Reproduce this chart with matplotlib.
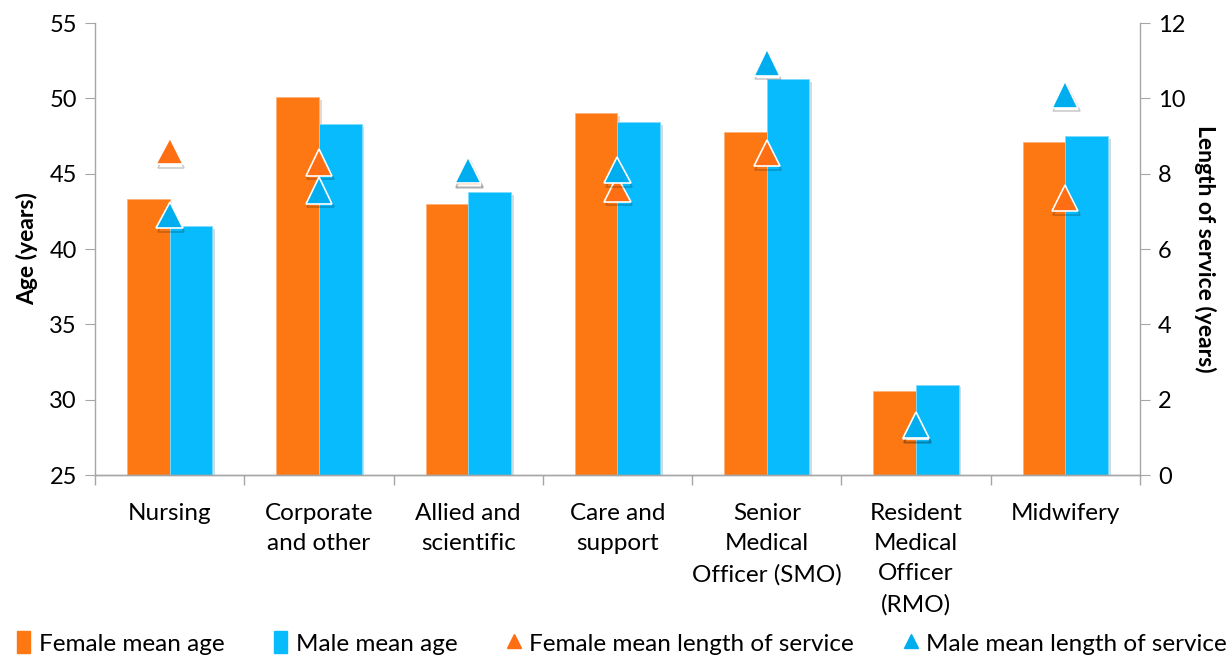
import numpy as np
import matplotlib
matplotlib.use("Agg")
import matplotlib.pyplot as plt
import matplotlib.patheffects as pe
from matplotlib.lines import Line2D
from matplotlib.patches import Patch

plt.rcParams['font.family'] = ['Lato', 'DejaVu Sans']

categories = ['Nursing', 'Corporate\nand other', 'Allied and\nscientific', 'Care and\nsupport',
              'Senior\nMedical\nOfficer (SMO)', 'Resident\nMedical\nOfficer\n(RMO)', 'Midwifery']
female_age = [43.3, 50.1, 43.0, 49.0, 47.8, 30.6, 47.1]
male_age = [41.5, 48.3, 43.8, 48.4, 51.3, 31.0, 47.5]
female_service = [8.6, 8.3, 8.05, 7.6, 8.55, 1.3, 7.35]
male_service = [6.9, 7.55, 8.1, 8.1, 10.95, 1.32, 10.1]

orange = '#FD7813'
blue = '#07BBFC'
tri_orange = '#FF6E12'
tri_blue = '#00AEEF'
grey = '#A6A6A6'

fig = plt.figure(figsize=(12.31, 6.6), dpi=100)
ax = fig.add_axes([0.0772, 0.2803, 0.8488, 0.6848])
ax2 = ax.twinx()

x = np.arange(len(categories))
w = 0.286
shadow = [pe.SimplePatchShadow(offset=(2, -2), alpha=0.2, rho=0.5), pe.Normal()]
ax.bar(x - w / 2, female_age, w, bottom=0, color=orange, edgecolor='#FFB27A', linewidth=0.6,
       zorder=2, path_effects=shadow)
ax.bar(x + w / 2, male_age, w, bottom=0, color=blue, edgecolor='#7FDBFF', linewidth=0.6,
       zorder=2, path_effects=shadow)

tshadow = [pe.SimpleLineShadow(offset=(1, -2.5), alpha=0.2, rho=0.2), pe.Normal()]
ax2.plot(x, female_service, linestyle='none', marker='^', markersize=19, color=tri_orange,
         markeredgecolor='white', markeredgewidth=1.2, path_effects=tshadow, zorder=3)
ax2.plot(x, male_service, linestyle='none', marker='^', markersize=19, color=tri_blue,
         markeredgecolor='white', markeredgewidth=1.2, path_effects=tshadow, zorder=4)

ax.set_xlim(-0.5, len(categories) - 0.5)
ax.set_ylim(25, 55)
ax2.set_ylim(0, 12)
ax.set_yticks(np.arange(25, 56, 5))
ax2.set_yticks(np.arange(0, 13, 2))

ax.set_xticks(np.arange(-0.5, len(categories), 1))
ax.set_xticklabels([])
ax.set_xticks(x, minor=True)
ax.set_xticklabels(categories, minor=True, fontsize=17.5, linespacing=1.55, va='top')
ax.tick_params(axis='x', which='minor', length=0, pad=20)
ax.tick_params(axis='x', which='major', length=7, color=grey, width=1)

for a in (ax, ax2):
    a.spines['top'].set_visible(False)
    for s in ('left', 'right', 'bottom'):
        a.spines[s].set_color(grey)
        a.spines[s].set_linewidth(1)
    a.tick_params(axis='y', length=7, color=grey, labelsize=17, pad=6)
ax.spines['right'].set_visible(False)
ax2.spines['left'].set_visible(False)

ax.set_ylabel('Age (years)', fontsize=16.5, fontweight='bold', labelpad=8)
ax2.set_ylabel('Length of service (years)', fontsize=16.5, fontweight='bold', rotation=270, labelpad=22)

handles = [Patch(color=orange), Patch(color=blue),
           Line2D([], [], linestyle='none', marker='^', color=tri_orange, markersize=10),
           Line2D([], [], linestyle='none', marker='^', color=tri_blue, markersize=10)]
labels = ['Female mean age', 'Male mean age', 'Female mean length of service', 'Male mean length of service']
fig.legend(handles, labels, loc='lower center', bbox_to_anchor=(0.505, -0.025), ncol=4, frameon=False,
           fontsize=17.5, handlelength=0.55, handleheight=1.0, handletextpad=0.35, columnspacing=2.05)

fig.savefig('out.png', dpi=100)
